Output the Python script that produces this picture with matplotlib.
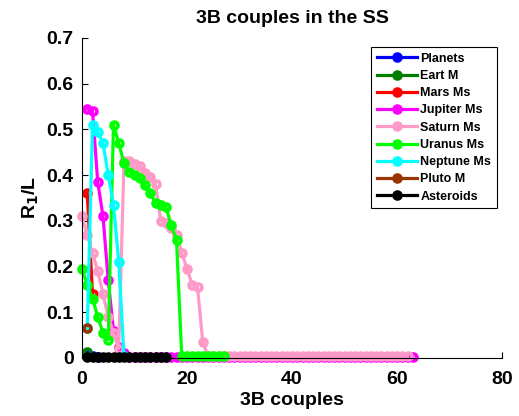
import numpy as np
import matplotlib
matplotlib.use("Agg")
import matplotlib.pyplot as plt
from matplotlib.ticker import FormatStrFormatter

plt.rcParams['font.family'] = ['Liberation Sans', 'DejaVu Sans']
plt.rcParams['font.weight'] = 'bold'

names = ['Planets', 'Eart M', 'Mars Ms', 'Jupiter Ms', 'Saturn Ms',
         'Uranus Ms', 'Neptune Ms', 'Pluto M', 'Asteroids']
colors = ['#0000ff', '#007f00', '#ff0000', '#ff00ff', '#ff99c8',
          '#00ff00', '#00ffff', '#993300', '#000000']
# first 3B couple index of each series
starts = [1, 1, 1, 1, 0, 0, 1, 1, 1]

planets = [0.008, 0.004, 0.003]
earth_m = [0.013]
mars_ms = [0.36, 0.14]
jupiter_ms = [0.545, 0.54, 0.385, 0.31, 0.17, 0.06, 0.025, 0.01,
              0.003, 0.003, 0.003, 0.003, 0.003, 0.003, 0.003, 0.003,
              0.003, 0.003, 0.003, 0.003, 0.003, 0.003, 0.003, 0.003,
              0.003, 0.003, 0.003, 0.003, 0.003, 0.003, 0.003, 0.003,
              0.003, 0.003, 0.003, 0.003, 0.003, 0.003, 0.003, 0.003,
              0.003, 0.003, 0.003, 0.003, 0.003, 0.003, 0.003, 0.003,
              0.003, 0.003, 0.003, 0.003, 0.003, 0.003, 0.003, 0.003,
              0.003, 0.003, 0.003, 0.003, 0.003, 0.003, 0.003]
saturn_ms = [0.31, 0.27, 0.23, 0.19, 0.14, 0.09, 0.055, 0.02,
             0.43, 0.43, 0.425, 0.42, 0.405, 0.395, 0.38, 0.30,
             0.295, 0.285, 0.27, 0.23, 0.195, 0.16, 0.155, 0.035,
             0.004, 0.004, 0.004, 0.004, 0.004, 0.004, 0.004, 0.004,
             0.004, 0.004, 0.004, 0.004, 0.004, 0.004, 0.004, 0.004,
             0.004, 0.004, 0.004, 0.004, 0.004, 0.004, 0.004, 0.004,
             0.004, 0.004, 0.004, 0.004, 0.004, 0.004, 0.004, 0.004,
             0.004, 0.004, 0.004, 0.004, 0.004, 0.004, 0.004]
uranus_ms = [0.195, 0.16, 0.13, 0.09, 0.055, 0.04, 0.51, 0.47,
             0.426, 0.407, 0.40, 0.394, 0.378, 0.36, 0.34, 0.335,
             0.33, 0.29, 0.258, 0.004, 0.004, 0.004, 0.004, 0.004,
             0.004, 0.004, 0.004, 0.004]
neptune_ms = [0.065, 0.51, 0.495, 0.47, 0.40, 0.335, 0.21, 0.004]
pluto_m = [0.065]
asteroids = [0.003, 0.003, 0.003, 0.003, 0.003, 0.003, 0.003, 0.003,
             0.003, 0.003, 0.003, 0.003, 0.003, 0.003, 0.003, 0.003]

series = [planets, earth_m, mars_ms, jupiter_ms, saturn_ms,
          uranus_ms, neptune_ms, pluto_m, asteroids]

fig = plt.figure(figsize=(5.19, 4.16), dpi=100)
ax = fig.add_axes([82 / 519, 58 / 416, 420 / 519, 320 / 416])

for vals, name, c, s in zip(series, names, colors, starts):
    x = np.arange(s, s + len(vals))
    ax.plot(x, vals, '-o', color=c, lw=2.3, ms=5, mew=2.6,
            mfc='none', mec=c, label=name, clip_on=False)

ax.set_xlim(0, 80)
ax.set_ylim(0, 0.7)
ax.set_xticks([0, 20, 40, 60, 80])
ax.set_yticks([0, 0.1, 0.2, 0.3, 0.4, 0.5, 0.6, 0.7])
ax.yaxis.set_major_formatter(FormatStrFormatter('%g'))
ax.spines['top'].set_visible(False)
ax.spines['right'].set_visible(False)
ax.tick_params(direction='in', length=4, labelsize=14)
ax.tick_params(axis='x', pad=9)
ax.tick_params(axis='y', pad=6)
for lab in ax.get_xticklabels() + ax.get_yticklabels():
    lab.set_fontweight('bold')

ax.set_title('3B couples in the SS', fontsize=14, fontweight='bold', pad=11)
ax.set_xlabel('3B couples', fontsize=14, fontweight='bold', labelpad=3)
ax.set_ylabel('R$_1$/L', fontsize=14, fontweight='bold', labelpad=4)

leg = ax.legend(loc='upper right', bbox_to_anchor=(497 / 519, 1 - 47 / 416),
                bbox_transform=fig.transFigure, borderaxespad=0,
                fontsize=9, handlelength=3.2, handletextpad=0.3,
                labelspacing=0.42, borderpad=0.45, fancybox=False,
                framealpha=1, edgecolor='black')
leg.get_frame().set_linewidth(0.8)
for h in leg.get_lines():
    h.set_markerfacecolor(h.get_color())
for t in leg.get_texts():
    t.set_fontweight('bold')

fig.savefig('out.png', dpi=100)
